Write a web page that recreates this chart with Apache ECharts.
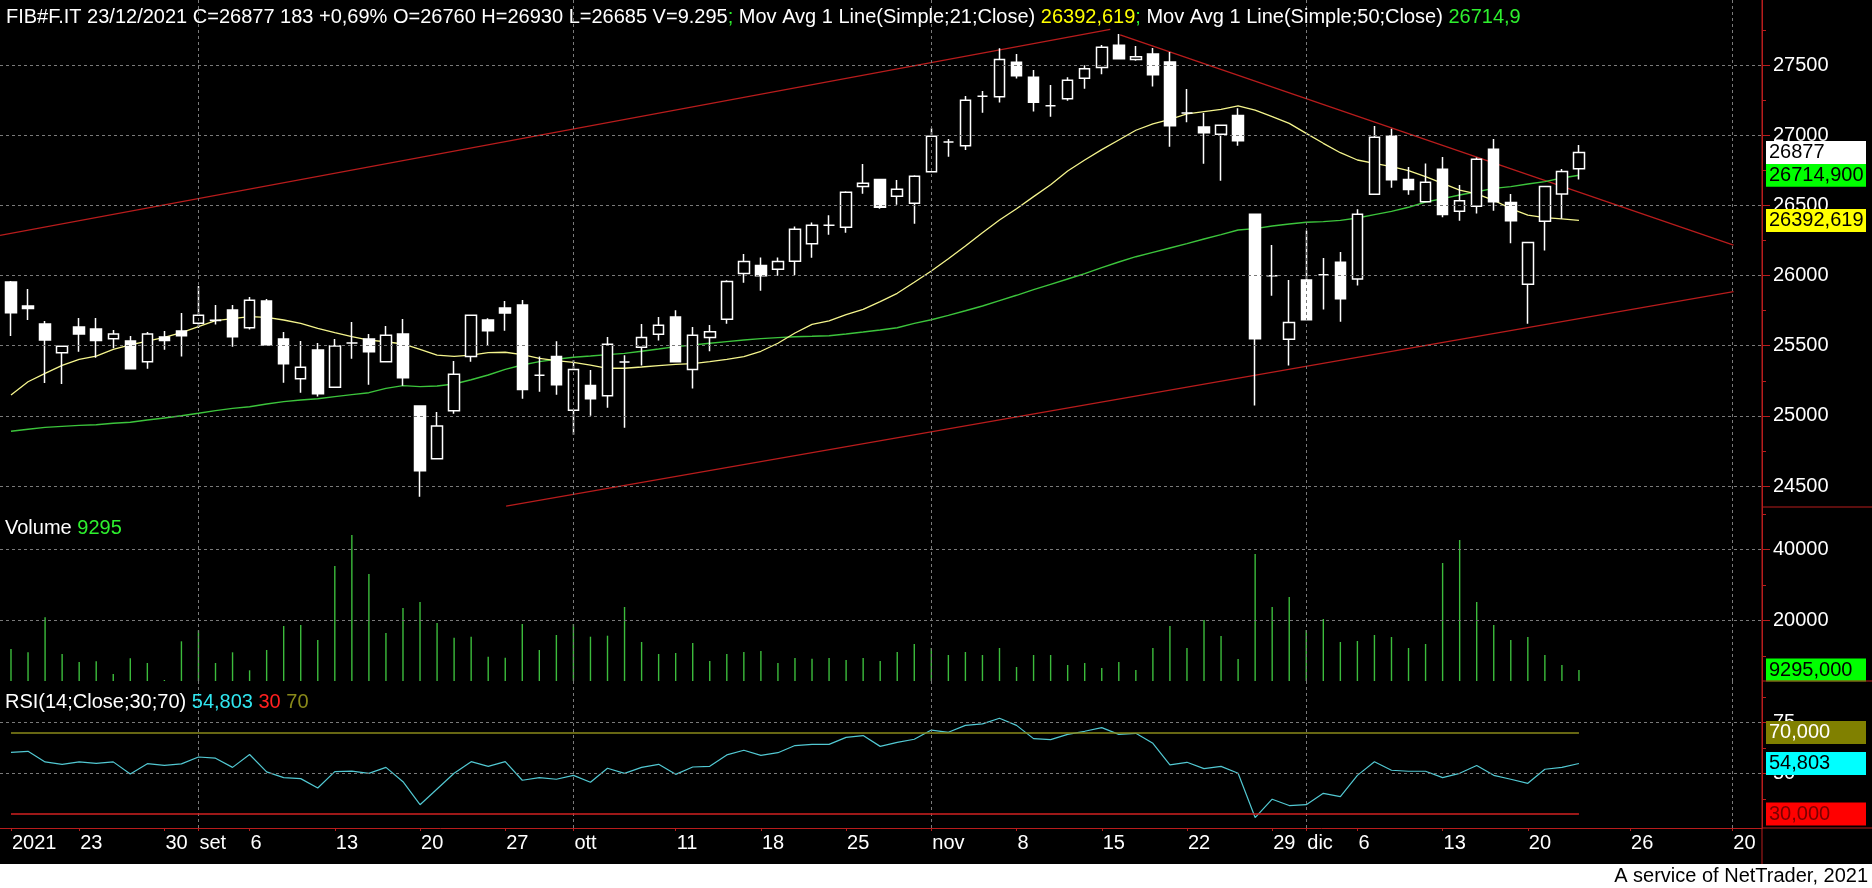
<!DOCTYPE html>
<html><head><meta charset="utf-8">
<script src="https://cdn.jsdelivr.net/npm/echarts@6/dist/echarts.min.js"></script>
<style>html,body{margin:0;padding:0;background:#000;}#c{width:1872px;height:888px;}</style>
</head><body><div id="c"></div>
<script>
// ---- data (slot index = trading day from 17 Aug 2021 to 23 Dec 2021, then calendar days) ----
const opens  = [25954,25783,25654,25450,25633,25619,25550,25533,25386,25562,25605,25659,25680,25754,25628,25818,25548,25265,25469,25203,25519,25548,25386,25583,25070,24695,25037,25422,25683,25768,25790,25289,25422,25039,25217,25144,25384,25488,25581,25704,25331,25559,25688,26015,26072,26044,26101,26227,26358,26343,26635,26685,26564,26514,26740,26951,26925,27277,27274,27519,27412,27210,27260,27405,27483,27640,27540,27578,27521,27158,27058,27006,27141,26436,25999,25545,25968,26006,26094,25975,26579,26994,26685,26526,26757,26457,26493,26899,26521,25937,26386,26581,26760];
const closes = [25735,25764,25540,25495,25583,25536,25583,25336,25583,25536,25571,25716,25681,25564,25823,25505,25372,25346,25158,25498,25519,25457,25574,25272,24609,24928,25296,25716,25607,25733,25187,25289,25222,25331,25122,25510,25384,25559,25645,25386,25574,25600,25958,26099,25999,26099,26329,26358,26358,26593,26657,26486,26614,26708,26992,26951,27248,27277,27540,27424,27234,27210,27391,27474,27626,27545,27559,27431,27068,27158,27018,27070,26961,25550,25999,25666,25685,26006,25835,26436,26985,26683,26612,26664,26434,26533,26828,26526,26391,26236,26635,26742,26877];
const lows   = [25569,25683,25234,25227,25457,25414,25481,25336,25336,25471,25422,25626,25650,25493,25616,25505,25236,25165,25137,25203,25407,25222,25386,25215,24424,24688,25015,25386,25505,25607,25122,25172,25151,24866,25001,25058,24916,25358,25536,25386,25194,25460,25657,25949,25892,25999,26004,26127,26291,26305,26583,26476,26505,26369,26740,26847,26894,27160,27232,27403,27168,27132,27246,27331,27434,27545,27531,27346,26918,27092,26797,26676,26925,25073,25856,25358,25685,25757,25671,25928,26579,26626,26576,26526,26415,26391,26441,26462,26229,25657,26179,26405,26685];
const highs  = [25960,25904,25676,25495,25697,25697,25612,25569,25597,25605,25733,25925,25790,25790,25847,25833,25597,25533,25519,25548,25669,25583,25640,25690,25070,25027,25391,25716,25695,25818,25825,25422,25531,25398,25327,25562,25431,25654,25704,25752,25633,25647,25966,26153,26129,26129,26350,26377,26429,26600,26795,26685,26681,26714,27049,26973,27279,27315,27619,27578,27464,27358,27412,27498,27643,27721,27635,27621,27593,27329,27158,27070,27191,26436,26217,25968,26320,26125,26168,26472,27065,27046,26773,26799,26844,26645,26840,26973,26581,26236,26635,26759,26930];
const volumes = [11970,11040,20900,10560,8300,8500,4930,9350,8030,3240,14140,17240,8030,11040,5970,11690,18450,18730,14510,35350,44090,33100,16480,23520,25210,19300,15160,15440,9800,9520,19010,11690,15920,19010,15440,15720,23800,13940,10560,10850,13660,8590,10560,11130,11410,8030,9440,9240,9440,8870,9440,8590,11130,13380,12250,10280,11130,10280,12250,6900,10280,10280,7470,8030,6620,8300,6060,12250,18450,12250,20140,15630,9150,38730,23800,26620,17320,20420,13940,14230,15920,15350,12250,13380,36200,42680,25210,18730,14510,15350,10280,7470,6060];
const ma21 = [25148,25243,25303,25360,25403,25426,25474,25505,25533,25559,25593,25635,25678,25692,25707,25702,25683,25659,25624,25593,25564,25540,25528,25512,25474,25433,25424,25433,25450,25453,25436,25410,25393,25381,25362,25339,25339,25348,25358,25367,25372,25386,25403,25422,25460,25517,25590,25652,25676,25721,25759,25814,25873,25952,26032,26120,26210,26305,26396,26476,26562,26647,26745,26823,26897,26966,27035,27080,27113,27151,27168,27184,27208,27179,27132,27084,27013,26942,26875,26823,26799,26776,26747,26704,26657,26609,26581,26536,26476,26431,26412,26403,26393];
const ma50 = [24890,24904,24918,24925,24932,24937,24947,24954,24970,24985,25001,25018,25037,25053,25065,25084,25101,25113,25122,25137,25151,25165,25196,25215,25208,25213,25227,25257,25291,25331,25362,25386,25403,25417,25426,25436,25445,25460,25476,25493,25505,25517,25529,25540,25550,25557,25564,25567,25571,25583,25597,25612,25628,25659,25685,25716,25749,25783,25821,25859,25899,25937,25975,26013,26056,26096,26134,26165,26196,26227,26260,26291,26324,26334,26353,26367,26379,26384,26393,26410,26434,26457,26486,26524,26548,26574,26597,26621,26633,26652,26669,26695,26714];
const rsi = [60.3,60.8,55.6,54.4,55.6,54.9,55.6,49.7,54.7,53.9,54.6,58.0,57.4,52.9,59.2,50.7,47.9,47.4,42.8,50.8,51.1,50.0,52.9,45.9,34.6,42.3,50.0,55.7,53.4,55.7,46.6,47.9,47.1,49.0,45.6,52.5,50.0,52.9,54.4,49.5,53.1,53.4,59.0,61.3,58.8,60.1,63.6,64.2,64.2,67.6,68.5,63.2,65.2,66.7,71.2,70.1,73.5,74.2,77.0,73.5,67.0,66.5,69.1,70.6,72.4,69.1,69.6,64.7,54.1,55.4,52.3,53.4,50.0,28.3,37.3,34.2,34.6,40.2,38.6,49.0,55.7,51.5,51.0,51.0,47.9,50.0,53.8,49.0,47.1,45.1,52.0,52.9,54.8];

const xLabelSlots = [0,4,9,11,14,19,24,29,33,39,44,49,54,59,64,69,74,76,79,84,89,95,101];
const xLabelTexts = ['2021','23','30','set','6','13','20','27','ott','11','18','25','nov','8','15','22','29','dic','6','13','20','26','20'];
const monthSlots = [11,33,54,76,101];

const priceLabels = [24500,25000,25500,26000,26500,27000,27500];
const priceMinor = [24500,24750,25000,25250,25500,25750,26000,26250,26500,26750,27000,27250,27500,27750];
const volLabels = [20000,40000];
const volMinor = [10000,20000,30000,40000,50000];
const rsiLabels = [50,75];
const rsiMinor = [37.5,50,62.5,75,87.5];
const rsiLevels = [30,70];

const trendUpper = [[-0.645,26286],[64.5,27754]];
const trendDown  = [[65.08,27714],[101.07,26217]];
const trendLower = [[29.05,24357],[101.07,25885]];

const lastClose = 26877, lastMa21 = 26392.619, lastMa50 = 26714.9, lastRsi = 54.803;

// ---- rendering ----
const FONT = '"Liberation Sans", Arial, sans-serif';
const RED = '#b81c1c';
const GRIDC = '#7a7a7a';
const X_MIN = -0.645, X_MAX = 102.74;
const n = opens.length;
const lastIdx = n - 1;

function badge(v, text, bg, fg) {
  return { yAxis: v, lineStyle: { color: 'rgba(0,0,0,0)', width: 0, opacity: 1 },
    label: { show: true, position: 'end', distance: 4, formatter: text, backgroundColor: bg, color: fg, opacity: 1,
      fontFamily: FONT, fontSize: 20, lineHeight: 21, width: 94, padding: [1,3,1,3], align: 'left' } };
}
function gridLines(hVals) {
  return { symbol: ['none','none'], silent: true, animation: false, label: { show: false },
    lineStyle: { color: GRIDC, type: [3,3], width: 1 },
    data: hVals.map(v => ({ yAxis: v })).concat(monthSlots.map(s => ({ xAxis: s }))) };
}
function xAx(gi, show) {
  return { gridIndex: gi, type: 'value', min: X_MIN, max: X_MAX, show: show,
    splitLine: { show: false },
    axisLine: { show: show, onZero: false, lineStyle: { color: RED, width: 1 } },
    axisTick: { show: show, customValues: xLabelSlots, length: 3, lineStyle: { color: RED } },
    axisLabel: { show: show, customValues: xLabelSlots, color: '#fff', fontFamily: FONT, fontSize: 20,
      align: 'left', margin: 5, padding: [0,0,0,1],
      formatter: v => { const k = xLabelSlots.indexOf(Math.round(v)); return k >= 0 ? xLabelTexts[k] : ''; } } };
}
function yAx(gi, min, max, minor, labels) {
  return [{ gridIndex: gi, type: 'value', position: 'right', min: min, max: max, scale: true,
    splitLine: { show: false },
    axisLine: { show: true, onZero: false, lineStyle: { color: RED, width: 1 } },
    axisTick: { show: true, customValues: minor, length: 4, lineStyle: { color: RED } },
    axisLabel: { show: true, customValues: labels, color: '#fff', fontFamily: FONT, fontSize: 20, margin: 11,
      formatter: v => String(v) } },
  { gridIndex: gi, type: 'value', position: 'right', min: min, max: max, scale: true,
    splitLine: { show: false }, axisLine: { show: false, onZero: false },
    axisTick: { show: true, customValues: labels, length: 8, lineStyle: { color: RED } },
    axisLabel: { show: false } }];
}

const chart = echarts.init(document.getElementById('c'), null, { renderer: 'canvas' });
const option = {
  backgroundColor: '#000',
  animation: false,
  grid: [
    { left: 0, right: 110, top: 0, height: 507, outerBoundsMode: 'none', containLabel: false },
    { left: 0, right: 110, top: 507, height: 174, outerBoundsMode: 'none', containLabel: false },
    { left: 0, right: 110, top: 681, height: 147, outerBoundsMode: 'none', containLabel: false }
  ],
  xAxis: [xAx(0, false), xAx(1, false), xAx(2, true)],
  yAxis: [].concat(
    yAx(0, 24350.4, 27963.2, priceMinor, priceLabels),
    yAx(1, 2958, 51972, volMinor, volLabels),
    yAx(2, 23.19, 95.25, rsiMinor, rsiLabels)
  ),
  series: [
    { type: 'line', name: 'gp', data: [], xAxisIndex: 0, yAxisIndex: 0, z: 1, silent: true, markLine: gridLines(priceLabels) },
    { type: 'line', name: 'gv', data: [], xAxisIndex: 1, yAxisIndex: 2, z: 1, silent: true, markLine: gridLines(volLabels) },
    { type: 'line', name: 'gr', data: [], xAxisIndex: 2, yAxisIndex: 4, z: 1, silent: true, markLine: gridLines(rsiLabels) },
    { type: 'line', data: trendUpper, xAxisIndex: 0, yAxisIndex: 0, symbol: 'none', z: 2, silent: true, lineStyle: { color: RED, width: 1.3 } },
    { type: 'line', data: trendDown, xAxisIndex: 0, yAxisIndex: 0, symbol: 'none', z: 2, silent: true, lineStyle: { color: RED, width: 1.3 } },
    { type: 'line', data: trendLower, xAxisIndex: 0, yAxisIndex: 0, symbol: 'none', z: 2, silent: true, lineStyle: { color: RED, width: 1.3 } },
    { type: 'line', data: ma50.map((v, i) => [i, v]), xAxisIndex: 0, yAxisIndex: 0, symbol: 'none', z: 3, silent: true,
      lineStyle: { color: '#3cc43c', width: 1.4 },
      markLine: { symbol: ['none','none'], silent: true, animation: false, data: [badge(lastMa50, '26714,900', '#00ff00', '#000')] } },
    { type: 'line', data: ma21.map((v, i) => [i, v]), xAxisIndex: 0, yAxisIndex: 0, symbol: 'none', z: 3, silent: true,
      lineStyle: { color: '#f4f48c', width: 1.3 },
      markLine: { symbol: ['none','none'], silent: true, animation: false, data: [badge(lastMa21, '26392,619', '#ffff00', '#000')] } },
    { type: 'candlestick', xAxisIndex: 0, yAxisIndex: 0, z: 4, barWidth: 11, silent: true,
      data: opens.map((o, i) => [i, o, closes[i], lows[i], highs[i]]),
      itemStyle: { color: '#000', color0: '#fff', borderColor: '#fff', borderColor0: '#fff', borderColorDoji: '#fff', borderWidth: 1.5 },
      markLine: { symbol: ['none','none'], silent: true, animation: false, data: [badge(lastClose, '26877', '#ffffff', '#000')] } },
    { type: 'bar', xAxisIndex: 1, yAxisIndex: 2, z: 3, barWidth: 1.4, clip: true, silent: true,
      data: volumes.map((v, i) => [i, v]), itemStyle: { color: '#3cbc3c' },
      markLine: { symbol: ['none','none'], silent: true, animation: false, data: [badge(volumes[lastIdx], '9295,000', '#00ff00', '#000')] } },
    { type: 'line', xAxisIndex: 2, yAxisIndex: 4, z: 3, symbol: 'none', silent: true,
      data: rsi.map((v, i) => [i, v]), lineStyle: { color: '#52c8d2', width: 1.2 },
      markLine: { symbol: ['none','none'], silent: true, animation: false, data: [
        [{ coord: [0, rsiLevels[1]], lineStyle: { color: '#8a8a1a', width: 1.5, type: 'solid' }, label: { show: false } }, { coord: [lastIdx, rsiLevels[1]] }],
        [{ coord: [0, rsiLevels[0]], lineStyle: { color: '#d02020', width: 1.5, type: 'solid' }, label: { show: false } }, { coord: [lastIdx, rsiLevels[0]] }],
        badge(rsiLevels[1], '70,000', '#808000', '#ffffff'),
        badge(lastRsi, '54,803', '#00ffff', '#000'),
        badge(rsiLevels[0], '30,000', '#ff0000', '#7a0000')
      ] } }
  ],
  graphic: [
    { type: 'text', x: 6, y: 17, z: 50, silent: true, style: {
      text: '{w|FIB#F.IT 23/12/2021 C=26877 183 +0,69% O=26760 H=26930 L=26685 V=9.295}{g|;}{w| Mov Avg 1 Line(Simple;21;Close) }{y|26392,619}{g|;}{w| Mov Avg 1 Line(Simple;50;Close) }{g|26714,9}',
      verticalAlign: 'middle', textVerticalAlign: 'middle', font: '20px ' + FONT,
      rich: { w: { fill: '#fff', color: '#fff', fontSize: 20, fontFamily: FONT }, g: { fill: '#2ef02e', color: '#2ef02e', fontSize: 20, fontFamily: FONT }, y: { fill: '#ffff00', color: '#ffff00', fontSize: 20, fontFamily: FONT } } } },
    { type: 'text', x: 5, y: 528, z: 50, silent: true, style: {
      text: '{w|Volume }{g|9295}', verticalAlign: 'middle', textVerticalAlign: 'middle', font: '20px ' + FONT,
      rich: { w: { fill: '#fff', color: '#fff', fontSize: 20, fontFamily: FONT }, g: { fill: '#2ef02e', color: '#2ef02e', fontSize: 20, fontFamily: FONT } } } },
    { type: 'text', x: 5, y: 702, z: 50, silent: true, style: {
      text: '{w|RSI(14;Close;30;70) }{c|54,803}{w| }{r|30}{w| }{o|70}', verticalAlign: 'middle', textVerticalAlign: 'middle', font: '20px ' + FONT,
      rich: { w: { fill: '#fff', color: '#fff', fontSize: 20, fontFamily: FONT }, c: { fill: '#30e6f0', color: '#30e6f0', fontSize: 20, fontFamily: FONT },
              r: { fill: '#ff2020', color: '#ff2020', fontSize: 20, fontFamily: FONT }, o: { fill: '#8a8a1a', color: '#8a8a1a', fontSize: 20, fontFamily: FONT } } } },
    { type: 'rect', z: 40, silent: true, shape: { x: 0, y: 864, width: 1872, height: 24 }, style: { fill: '#ffffff' } },
    { type: 'text', x: 1868, y: 876, z: 51, silent: true, style: { text: 'A service of NetTrader, 2021', fill: '#000', font: '20px ' + FONT,
      align: 'right', textAlign: 'right', verticalAlign: 'middle', textVerticalAlign: 'middle' } },
    { type: 'line', z: 52, silent: true, shape: { x1: 1762, y1: 0, x2: 1762, y2: 864 }, style: { stroke: RED, lineWidth: 1 } },
    { type: 'line', z: 52, silent: true, shape: { x1: 1762, y1: 507, x2: 1872, y2: 507 }, style: { stroke: RED, lineWidth: 1 } },
    { type: 'line', z: 52, silent: true, shape: { x1: 1762, y1: 681, x2: 1872, y2: 681 }, style: { stroke: RED, lineWidth: 1 } },
    { type: 'line', z: 52, silent: true, shape: { x1: 1762, y1: 828, x2: 1872, y2: 828 }, style: { stroke: RED, lineWidth: 1 } }
  ]
};
chart.setOption(option);
</script></body></html>
